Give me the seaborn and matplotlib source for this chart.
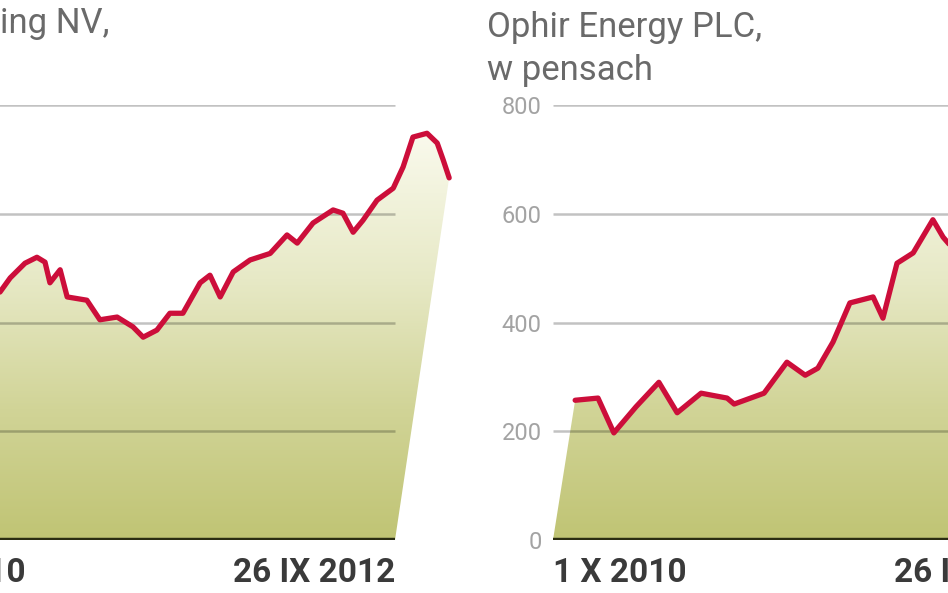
import numpy as np
import pandas as pd
import matplotlib
matplotlib.use("Agg")
import matplotlib.pyplot as plt
import seaborn as sns
from matplotlib.patches import Polygon
from matplotlib.colors import LinearSegmentedColormap

# ---- data (weeks since 1 X 2010, share price) ----
left_title = "ing NV,"
left_weeks = [30.7, 33.6, 37.8, 41.2, 43.5, 44.9, 47.8, 49.8, 55.4, 59.1, 64.0, 68.5,
              71.4, 75.3, 79.0, 82.7, 87.6, 90.4, 93.3, 97.0, 101.8, 107.5, 112.3,
              115.2, 119.7, 125.4, 128.2, 131.1, 133.9, 137.9, 142.5, 145.3, 148.1,
              152.1, 155.0, 156.7, 158.4]
left_values = [456, 482, 509, 520, 511, 473, 497, 447, 441, 405, 410, 392,
               373, 386, 417, 417, 473, 487, 447, 493, 515, 527, 561,
               546, 583, 607, 601, 566, 588, 625, 647, 686, 741,
               748, 730, 699, 666]

right_title = "Ophir Energy PLC,\nw pensach"
right_weeks = [6.3, 12.8, 17.3, 23.6, 30.1, 35.3, 42.1, 49.5, 51.5, 60.0, 66.5,
               71.7, 75.3, 79.6, 84.4, 91.0, 93.8, 97.8, 102.4, 108.0, 110.9, 112.9]
right_values = [257, 261, 197, 245, 290, 234, 270, 261, 250, 270, 327,
                303, 316, 364, 436, 447, 408, 509, 528, 589, 557, 542]

y_ticks = [0, 200, 400, 600, 800]
y_tick_labels = ["0", "200", "400", "600", "800"]
x_ticks = [0, 143]
x_tick_labels = ["1 X 2010", "26 IX 2012"]

# ---- style ----
sns.set_style("white")
plt.rcParams["font.family"] = ["Roboto", "DejaVu Sans"]

W, H = 948, 593
fig = plt.figure(figsize=(W / 100, H / 100), dpi=100)

XMAX = 160  # axes range in weeks (axis line ends at 143)
PX_PER_WEEK = 503 / 143.0


def make_axes(x0_px):
    width_px = XMAX * PX_PER_WEEK
    return fig.add_axes([x0_px / W, (H - 540) / H, width_px / W, 435 / H])


line_color = "#cc0e3a"
grad = LinearSegmentedColormap.from_list(
    "g", [(0.0, "#c0c474"), (0.3, "#d1d497"), (0.6, "#e7e9c6"), (1.0, "#fdfdf4")])


def draw_panel(ax, weeks, values, show_ylabels):
    df = pd.DataFrame({"week": weeks, "value": values})
    verts = list(zip(weeks, values)) + [(x_ticks[1], 0), (x_ticks[0], 0)]
    poly = Polygon(verts, closed=True, facecolor="none", edgecolor="none")
    ax.add_patch(poly)
    z = np.linspace(0, 1, 256).reshape(-1, 1)
    im = ax.imshow(z, cmap=grad, origin="lower", aspect="auto",
                   extent=(0, XMAX, 0, 800), zorder=1, interpolation="bilinear")
    im.set_clip_path(poly)
    for y in y_ticks[1:]:
        ax.hlines(y, x_ticks[0], x_ticks[1], color=(0, 0, 0, 0.24),
                  linewidth=1.8, zorder=2)
    ax.hlines(0, x_ticks[0], x_ticks[1], color="#2b2d12", linewidth=3.2, zorder=4)
    sns.lineplot(data=df, x="week", y="value", ax=ax, color=line_color,
                 linewidth=3.8, estimator=None, zorder=3)
    ax.set_xlim(0, XMAX)
    ax.set_ylim(0, 800)
    ax.set_xlabel("")
    ax.set_ylabel("")
    for s in ax.spines.values():
        s.set_visible(False)
    ax.set_xticks(x_ticks)
    ax.set_xticklabels(x_tick_labels, fontsize=24, fontweight="bold", color="#3a3a3a")
    labs = ax.get_xticklabels()
    labs[0].set_ha("left")
    labs[1].set_ha("right")
    ax.tick_params(axis="x", length=0, pad=12)
    ax.set_yticks(y_ticks)
    if show_ylabels:
        ax.set_yticklabels(y_tick_labels, fontsize=17, color="#a3a3a3")
    else:
        ax.set_yticklabels([])
    ax.tick_params(axis="y", length=0, pad=8)
    ax.patch.set_alpha(0)


ax_l = make_axes(-108)
draw_panel(ax_l, left_weeks, left_values, False)
ax_r = make_axes(553)
draw_panel(ax_r, right_weeks, right_values, True)

fig.text(0 / W, 1 - 24 / H, left_title, fontsize=25, color="#6a6a6a", va="center")
fig.text(487 / W, 1 - 49 / H, right_title, fontsize=25, color="#6a6a6a",
         va="center", linespacing=1.42)

fig.savefig("out.png", dpi=100)
